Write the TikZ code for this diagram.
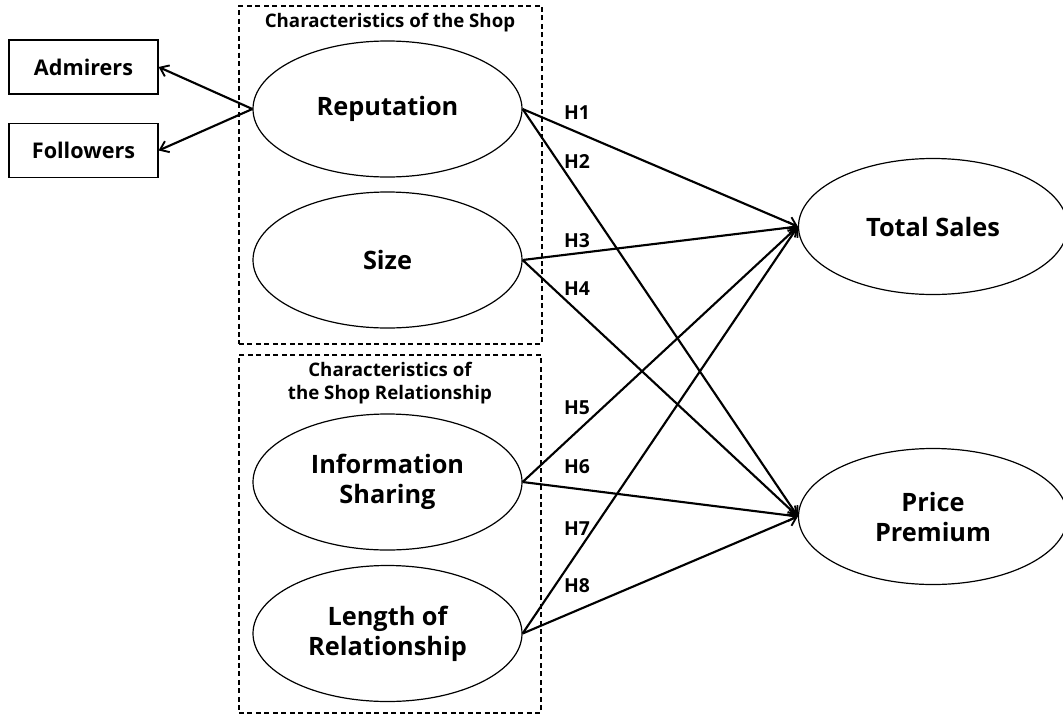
\documentclass[tikz,border=0pt]{standalone}
\usepackage{fontspec}
\setmainfont{Open Sans}
\usetikzlibrary{shapes.geometric,arrows.meta}
\begin{document}
\begin{tikzpicture}[x=0.75pt,y=-0.75pt,
  lat/.style={ellipse,draw,line width=0.9pt,minimum width=201.75pt,minimum height=102pt,inner sep=0pt,align=center,font=\fontsize{19}{22.5}\selectfont\bfseries},
  ind/.style={rectangle,draw,line width=0.9pt,minimum width=111.75pt,minimum height=40.5pt,inner sep=0pt,font=\fontsize{16.2}{18}\selectfont\bfseries},
  grp/.style={rectangle,draw,line width=0.85pt,dash pattern=on 3.75pt off 2.6pt,inner sep=0pt},
  ttl/.style={align=center,inner sep=0pt,font=\fontsize{14}{17.25}\selectfont\bfseries},
  hyp/.style={inner sep=0pt,font=\fontsize{14.5}{16}\selectfont\bfseries},
  path/.style={line width=1.6pt,-{Straight Barb[length=6pt,width=9pt,line width=1.4pt]}}
]
\useasboundingbox (0,0) rectangle (1063,714);
% groups
\node[grp,minimum width=227.25pt,minimum height=253.5pt] (g1) at (390.5,175) {};
\node[grp,minimum width=226.5pt,minimum height=268.5pt] (g2) at (390,534) {};
\node[ttl] (t1) at (390,23) {Characteristics of the Shop};
\node[ttl] (t2) at (390,383.5) {Characteristics of\\the Shop Relationship};
% latent constructs
\node[lat] (rep) at (387.5,109) {Reputation};
\node[lat] (size) at (387.5,260) {Size};
\node[lat] (info) at (387.5,482) {Information\\Sharing};
\node[lat] (len) at (387.5,633.5) {Length of\\Relationship};
\node[lat] (ts) at (933,226.5) {Total Sales};
\node[lat] (pp) at (933,516.5) {Price\\Premium};
% indicators
\node[ind] (adm) at (83.5,67) {Admirers};
\node[ind] (fol) at (83.5,150.5) {Followers};
% connectors
\draw[path] (rep.west) -- (adm.east);
\draw[path] (rep.west) -- (fol.east);
\draw[path] (rep.east) -- (ts.west);
\draw[path] (rep.east) -- (pp.west);
\draw[path] (size.east) -- (ts.west);
\draw[path] (size.east) -- (pp.west);
\draw[path] (info.east) -- (ts.west);
\draw[path] (info.east) -- (pp.west);
\draw[path] (len.east) -- (ts.west);
\draw[path] (len.east) -- (pp.west);
% hypothesis labels
\node[hyp] (h1) at (577,113) {H1};
\node[hyp] (h2) at (577,161) {H2};
\node[hyp] (h3) at (577,241) {H3};
\node[hyp] (h4) at (577,289) {H4};
\node[hyp] (h5) at (577,408) {H5};
\node[hyp] (h6) at (577,467) {H6};
\node[hyp] (h7) at (577,529) {H7};
\node[hyp] (h8) at (577,586) {H8};
\end{tikzpicture}
\end{document}
